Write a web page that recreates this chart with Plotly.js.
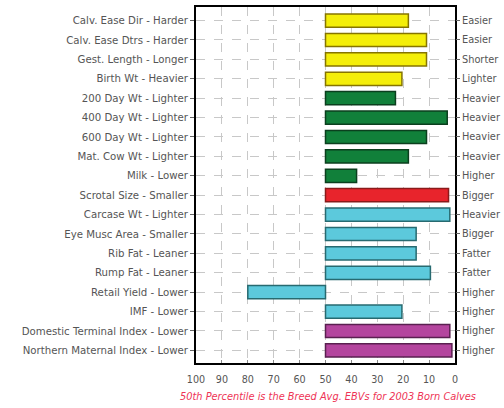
<!DOCTYPE html>
<html>
<head>
<meta charset="utf-8">
<script src="https://cdn.plot.ly/plotly-3.0.1.min.js"></script>
<style>html,body{margin:0;padding:0;background:#fff;}#chart{width:504px;height:408px;}</style>
</head>
<body>
<div id="chart"></div>
<script>
const traitLabels = [
  "Calv. Ease Dir - Harder", "Calv. Ease Dtrs - Harder", "Gest. Length - Longer", "Birth Wt - Heavier",
  "200 Day Wt - Lighter", "400 Day Wt - Lighter", "600 Day Wt - Lighter", "Mat. Cow Wt - Lighter",
  "Milk - Lower", "Scrotal Size - Smaller", "Carcase Wt - Lighter", "Eye Musc Area - Smaller",
  "Rib Fat - Leaner", "Rump Fat - Leaner", "Retail Yield - Lower", "IMF - Lower",
  "Domestic Terminal Index - Lower", "Northern Maternal Index - Lower"
];
const goodLabels = [
  "Easier", "Easier", "Shorter", "Lighter",
  "Heavier", "Heavier", "Heavier", "Heavier",
  "Higher", "Bigger", "Heavier", "Bigger",
  "Fatter", "Fatter", "Higher", "Higher",
  "Higher", "Higher"
];
const percentiles = [18, 11, 11, 20.5, 23, 3, 11, 18, 38, 2.5, 2, 15, 15, 9.5, 80, 20.5, 2, 1.2];
const groups = ["calving","calving","calving","calving","growth","growth","growth","growth","growth",
  "fertility","carcase","carcase","carcase","carcase","carcase","carcase","index","index"];
const fillColors = {calving:"#f4ee0a", growth:"#11803a", fertility:"#e8242c", carcase:"#5cc9dc", index:"#b4459e"};
const lineColors = {calving:"#857400", growth:"#0b3f1e", fertility:"#8a1a1a", carcase:"#276a70", index:"#5a2050"};
const xTicks = [100, 90, 80, 70, 60, 50, 40, 30, 20, 10, 0];
const breedAvg = 50;
const caption = "50th Percentile is the Breed Avg. EBVs for 2003 Born Calves";

const idx = traitLabels.map((_, i) => i);
const font = {family: "DejaVu Sans, Verdana, sans-serif", size: 10.2, color: "#555"};

const bars = {
  type: "bar",
  orientation: "h",
  y: idx,
  x: percentiles.map(p => p - breedAvg),
  base: percentiles.map(() => breedAvg),
  width: 0.68,
  marker: {
    color: groups.map(g => fillColors[g]),
    line: {color: groups.map(g => lineColors[g]), width: 1.5}
  },
  hoverinfo: "skip",
  showlegend: false
};
const ghost = {
  type: "scatter", mode: "markers", x: [breedAvg], y: [0], yaxis: "y2",
  marker: {opacity: 0}, hoverinfo: "skip", showlegend: false
};

const yRange = [17.65, -0.7];
const layout = {
  width: 504, height: 408,
  margin: {l: 196, r: 49, t: 7, b: 45},
  paper_bgcolor: "#fff", plot_bgcolor: "#fff",
  font: font,
  bargap: 0.3,
  xaxis: {
    range: [100, 0], tickvals: xTicks, ticktext: xTicks.map(String),
    showgrid: true, gridcolor: "#c8c8c8", griddash: "dash", gridwidth: 1,
    zeroline: false, showline: true, linecolor: "#000", linewidth: 2, mirror: true,
    ticks: "inside", ticklen: 3, tickcolor: "#888", ticklabelstandoff: 6,
    tickfont: Object.assign({}, font, {size: 9.6}), fixedrange: true
  },
  yaxis: {
    range: yRange, tickvals: idx, ticktext: traitLabels,
    showgrid: true, gridcolor: "#c8c8c8", griddash: "dash", gridwidth: 1,
    zeroline: false, showline: true, linecolor: "#000", linewidth: 2, mirror: true,
    ticks: "outside", ticklen: 4, tickcolor: "#666",
    tickfont: font, fixedrange: true
  },
  yaxis2: {
    overlaying: "y", side: "right", range: yRange, tickvals: idx, ticktext: goodLabels,
    showgrid: false, zeroline: false, showline: false,
    ticks: "outside", ticklen: 4, tickcolor: "#666",
    tickfont: Object.assign({}, font, {size: 9.8}), fixedrange: true
  },
  annotations: [{
    text: caption, xref: "paper", yref: "paper", x: 0.51, y: 0, yshift: -26,
    xanchor: "center", yanchor: "top", showarrow: false,
    font: {family: "DejaVu Sans, Verdana, sans-serif", size: 9.8, color: "#ee3355", style: "italic"}
  }]
};

Plotly.newPlot("chart", [bars, ghost], layout, {displayModeBar: false, staticPlot: true});
</script>
</body>
</html>
